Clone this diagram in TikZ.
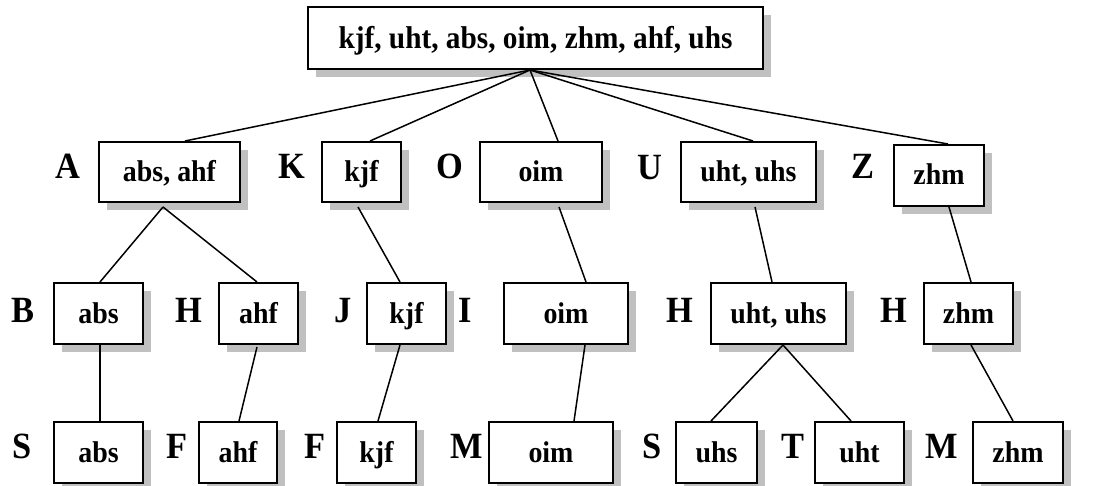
\documentclass[tikz,border=0pt]{standalone}
\usepackage{fontspec}
\setmainfont{Liberation Serif}[FakeStretch=0.93]
\usepackage{tikz}
\usetikzlibrary{shadows}
\definecolor{shade}{HTML}{C0C0C0}

\begin{document}
\begin{tikzpicture}[x=1pt,y=-1pt,
  keybox/.style={draw,line width=2pt,fill=white,inner sep=0pt,
    font=\fontsize{30}{33}\selectfont\bfseries,text height=20pt,text depth=1pt,
    drop shadow={shadow xshift=8pt,shadow yshift=-8pt,fill=shade,opacity=1}},
  letter/.style={anchor=base,font=\fontsize{37}{40}\selectfont\bfseries},
  edge/.style={line width=1.5pt}]
\useasboundingbox (0,0) rectangle (1107,486);

% root
\node[keybox,minimum width=455pt,minimum height=62pt,text height=25pt,text depth=3pt,
  font=\fontsize{31.5}{35}\selectfont\bfseries] (root) at (535.5,38)
  {kjf, uht, abs, oim, zhm, ahf, uhs};

% first level
\node[keybox,minimum width=141pt,minimum height=60pt] (a) at (169.5,172) {abs, ahf};
\node[keybox,minimum width=79pt,minimum height=60pt] (k) at (361.5,172) {kjf};
\node[keybox,minimum width=122pt,minimum height=60pt] (o) at (541,172) {oim};
\node[keybox,minimum width=135pt,minimum height=60pt] (u) at (748.5,172) {uht, uhs};
\node[keybox,minimum width=90pt,minimum height=61pt] (z) at (939,175.5) {zhm};
\node[letter] (lA) at (68,179) {A};
\node[letter] (lK) at (292,179) {K};
\node[letter] (lO) at (450,179) {O};
\node[letter] (lU) at (650,180) {U};
\node[letter] (lZ) at (863,179) {Z};

% second level
\node[keybox,minimum width=89pt,minimum height=61pt] (b) at (98.5,313.5) {abs};
\node[keybox,minimum width=79pt,minimum height=61pt] (ha) at (258.5,313.5) {ahf};
\node[keybox,minimum width=79pt,minimum height=61pt] (j) at (406.5,313.5) {kjf};
\node[keybox,minimum width=124pt,minimum height=61pt] (i) at (566,313.5) {oim};
\node[keybox,minimum width=135pt,minimum height=61pt] (hu) at (778.5,313.5) {uht, uhs};
\node[keybox,minimum width=89pt,minimum height=61pt] (hz) at (968.5,313.5) {zhm};
\node[letter] (lB) at (23,322) {B};
\node[letter] (lHa) at (189,322) {H};
\node[letter] (lJ) at (343,322) {J};
\node[letter] (lI) at (465,322) {I};
\node[letter] (lHu) at (680,322) {H};
\node[letter] (lHz) at (894,322) {H};

% leaves
\node[keybox,minimum width=89pt,minimum height=61pt] (sa) at (98.5,452.5) {abs};
\node[keybox,minimum width=78pt,minimum height=61pt] (fa) at (238,452.5) {ahf};
\node[keybox,minimum width=79pt,minimum height=61pt] (fk) at (376.5,452.5) {kjf};
\node[keybox,minimum width=124pt,minimum height=61pt] (mo) at (551,452.5) {oim};
\node[keybox,minimum width=81pt,minimum height=61pt] (su) at (716.5,452.5) {uhs};
\node[keybox,minimum width=89pt,minimum height=61pt] (tu) at (859.5,452.5) {uht};
\node[keybox,minimum width=90pt,minimum height=61pt] (mz) at (1018,452.5) {zhm};
\node[letter] (lSa) at (22,458) {S};
\node[letter] (lFa) at (177,458) {F};
\node[letter] (lFk) at (315,458) {F};
\node[letter] (lMo) at (467,458) {M};
\node[letter] (lSu) at (652,458) {S};
\node[letter] (lTu) at (793,458) {T};
\node[letter] (lMz) at (942,458) {M};

% edges
\draw[edge] ([xshift=-5.5pt]root.south) -- ([xshift=15.5pt]a.north);
\draw[edge] ([xshift=-5.5pt]root.south) -- ([xshift=8.5pt]k.north);
\draw[edge] ([xshift=-5.5pt]root.south) -- ([xshift=17pt]o.north);
\draw[edge] ([xshift=-5.5pt]root.south) -- ([xshift=4.5pt]u.north);
\draw[edge] ([xshift=-5.5pt]root.south) -- ([xshift=9pt]z.north);
\draw[edge] ([xshift=-6.5pt,yshift=-4pt]a.south) -- ([xshift=1.5pt]b.north);
\draw[edge] ([xshift=-6.5pt,yshift=-4pt]a.south) -- ([xshift=-1.5pt]ha.north);
\draw[edge] ([xshift=-3.5pt,yshift=-4pt]k.south) -- ([xshift=-6.5pt]j.north);
\draw[edge] ([xshift=18pt,yshift=-4pt]o.south) -- ([xshift=20pt]i.north);
\draw[edge] ([xshift=6.5pt,yshift=-4pt]u.south) -- ([xshift=-6.5pt]hu.north);
\draw[edge] ([xshift=10pt]z.south) -- ([xshift=2.5pt]hz.north);
\draw[edge] ([xshift=1.5pt]b.south) -- ([xshift=1.5pt]sa.north);
\draw[edge] ([xshift=-1.5pt,yshift=-2pt]ha.south) -- ([xshift=1pt]fa.north);
\draw[edge] ([xshift=-6.5pt]j.south) -- ([xshift=1.5pt]fk.north);
\draw[edge] ([xshift=19pt]i.south) -- ([xshift=23pt]mo.north);
\draw[edge] ([xshift=4.5pt]hu.south) -- ([xshift=-5.5pt]su.north);
\draw[edge] ([xshift=4.5pt]hu.south) -- ([xshift=-8.5pt]tu.north);
\draw[edge] ([xshift=2.5pt]hz.south) -- ([xshift=-5pt]mz.north);
\end{tikzpicture}
\end{document}
